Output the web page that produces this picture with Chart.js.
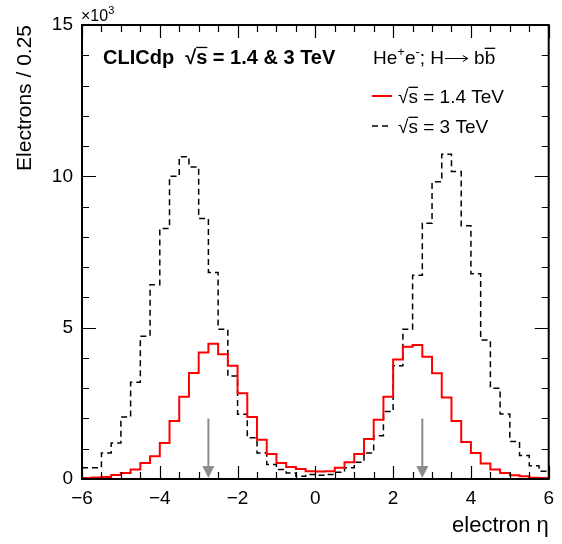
<!DOCTYPE html>
<html>
<head>
<meta charset="utf-8">
<script src="https://cdn.jsdelivr.net/npm/chart.js@4.4.1/dist/chart.umd.min.js"></script>
<style>
  html, body { margin: 0; padding: 0; background: #fff; }
</style>
</head>
<body>
<canvas id="c" width="562" height="544"></canvas>
<script>
// bin edges in electron eta (48 bins of 0.25)
const binEdges = [-6, -5.75, -5.5, -5.25, -5, -4.75, -4.5, -4.25, -4, -3.75, -3.5, -3.25,
  -3, -2.75, -2.5, -2.25, -2, -1.75, -1.5, -1.25, -1, -0.75, -0.5, -0.25,
  0, 0.25, 0.5, 0.75, 1, 1.25, 1.5, 1.75, 2, 2.25, 2.5, 2.75,
  3, 3.25, 3.5, 3.75, 4, 4.25, 4.5, 4.75, 5, 5.25, 5.5, 5.75, 6];

// electrons per bin, sqrt(s) = 1.4 TeV
const electrons14 = [30, 50, 70, 130, 200, 310, 530, 750, 1190, 1920, 2720, 3500,
  4180, 4470, 4120, 3740, 2830, 2050, 1300, 830, 530, 400, 330, 260,
  250, 260, 370, 550, 830, 1320, 1960, 2720, 3950, 4370, 4430, 4040,
  3490, 2690, 1920, 1220, 860, 510, 310, 200, 120, 90, 40, 30];

// electrons per bin, sqrt(s) = 3 TeV
const electrons3 = [370, 370, 860, 1190, 2050, 3200, 4720, 6420, 8280, 10000, 10650, 10310,
  8610, 6820, 4950, 3400, 2140, 1360, 860, 480, 310, 200, 90, 150,
  120, 150, 220, 370, 550, 860, 1430, 2230, 3740, 4950, 6730, 8450,
  9820, 10730, 10160, 8370, 6780, 4590, 3000, 2150, 1240, 780, 440, 260];

// cut arrows
const arrowEta = [-2.75, 2.75];
const arrowFrom = 2000;
const arrowTo = 0;

const xTicks = { min: -6, max: 6, major: 2, minor: 0.5 };
const yTicks = { min: 0, max: 15000, major: 5000, minor: 1000 };

const FONT = "'Liberation Sans', Arial, Helvetica, sans-serif";
Chart.defaults.font.family = FONT;
Chart.defaults.color = '#000';

function histPoints(values) {
  let pts = values.map((v, i) => ({ x: binEdges[i], y: v }));
  pts.push({ x: binEdges[binEdges.length - 1], y: values[values.length - 1] });
  return pts;
}

// draw a run of text pieces: [text, kind] with kind '', 'sup', 'over', 'arrow'
function drawPieces(ctx, pieces, x, y, size, bold) {
  let cx = x;
  pieces.forEach(function(p) {
    let t = p[0], kind = p[1] || '';
    if (kind === 'arrow') {
      // long thin right arrow like ROOT's #rightarrow
      let len = size * 1.25, ay = Math.round(y - size * 0.34) + 0.5;
      ctx.save();
      ctx.strokeStyle = '#000';
      ctx.lineWidth = 1;
      ctx.beginPath();
      ctx.moveTo(cx + 1, ay);
      ctx.lineTo(cx + len, ay);
      ctx.moveTo(cx + len - 5, ay - 3);
      ctx.lineTo(cx + len, ay);
      ctx.lineTo(cx + len - 5, ay + 3);
      ctx.stroke();
      ctx.restore();
      cx += len + 1;
      return;
    }
    let s = kind === 'sup' ? Math.round(size * 0.68) : size;
    ctx.font = (bold ? 'bold ' : '') + s + 'px ' + FONT;
    let dy = kind === 'sup' ? -size * 0.42 : 0;
    ctx.fillText(t, cx, y + dy);
    let w = ctx.measureText(t).width;
    if (kind === 'over') {
      ctx.fillRect(cx, y - size * 0.86, w, 1.3);
    }
    cx += w;
  });
  return cx;
}

// "√s" followed by some text
function sqrtS(rest) {
  return [['\u221A'], ['s', 'over'], [rest]];
}

const rootStyle = {
  id: 'rootStyle',
  afterDatasetsDraw(chart) {
    const { ctx, chartArea: a, scales: { x, y } } = chart;
    ctx.save();

    // arrows
    ctx.strokeStyle = '#8c8c8c';
    ctx.fillStyle = '#8c8c8c';
    ctx.lineWidth = 2;
    arrowEta.forEach(function(v) {
      let px = x.getPixelForValue(v);
      let top = y.getPixelForValue(arrowFrom);
      let tip = y.getPixelForValue(arrowTo) - 1;
      ctx.beginPath();
      ctx.moveTo(px, top);
      ctx.lineTo(px, tip - 10);
      ctx.stroke();
      ctx.beginPath();
      ctx.moveTo(px - 6, tip - 12);
      ctx.lineTo(px + 6, tip - 12);
      ctx.lineTo(px, tip);
      ctx.closePath();
      ctx.fill();
    });

    // frame
    ctx.strokeStyle = '#000';
    ctx.lineWidth = 2;
    ctx.strokeRect(a.left, a.top, a.right - a.left, a.bottom - a.top);

    // inward ticks on all four sides
    ctx.lineWidth = 1.2;
    ctx.beginPath();
    for (let v = xTicks.min; v <= xTicks.max + 1e-9; v += xTicks.minor) {
      let px = Math.round(x.getPixelForValue(v)) + 0.5;
      let len = Math.abs(v / xTicks.major - Math.round(v / xTicks.major)) < 1e-6 ? 13 : 7;
      ctx.moveTo(px, a.bottom); ctx.lineTo(px, a.bottom - len);
      ctx.moveTo(px, a.top); ctx.lineTo(px, a.top + len);
    }
    for (let v = yTicks.min; v <= yTicks.max; v += yTicks.minor) {
      let py = Math.round(y.getPixelForValue(v)) + 0.5;
      let len = v % yTicks.major === 0 ? 14 : 7;
      ctx.moveTo(a.left, py); ctx.lineTo(a.left + len, py);
      ctx.moveTo(a.right, py); ctx.lineTo(a.right - len, py);
    }
    ctx.stroke();
    ctx.restore();
  },
  afterDraw(chart) {
    const { ctx, chartArea: a } = chart;
    ctx.save();
    ctx.fillStyle = '#000';
    ctx.textBaseline = 'alphabetic';
    ctx.textAlign = 'left';

    // exponent
    drawPieces(ctx, [['\u00D710'], ['3', 'sup']], a.left - 1, 21, 16, false);

    // header
    let cx = drawPieces(ctx, [['CLICdp  ']], 103, 64, 20, true);
    drawPieces(ctx, sqrtS(' = 1.4 & 3 TeV'), cx, 64, 20, true);
    drawPieces(ctx, [['He'], ['+', 'sup'], ['e'], ['-', 'sup'], ['; H'], ['', 'arrow'], [' b'], ['b', 'over']], 373, 64, 19, false);

    // legend
    chart.data.datasets.forEach(function(ds, i) {
      let ly = 96 + i * 30;
      ctx.strokeStyle = ds.borderColor;
      ctx.lineWidth = ds.borderWidth;
      ctx.setLineDash(ds.borderDash || []);
      ctx.beginPath();
      ctx.moveTo(372, ly);
      ctx.lineTo(392, ly);
      ctx.stroke();
      ctx.setLineDash([]);
      drawPieces(ctx, sqrtS(ds.label.replace('\u221As', '')), 398, ly + 7, 19, false);
    });
    ctx.restore();
  }
};

new Chart(document.getElementById('c'), {
  type: 'line',
  data: {
    datasets: [
      { label: '\u221As = 1.4 TeV', data: histPoints(electrons14), borderColor: '#ff0000',
        borderWidth: 2, stepped: 'before', pointRadius: 0, fill: false },
      { label: '\u221As = 3 TeV', data: histPoints(electrons3), borderColor: '#000000',
        borderWidth: 1.5, borderDash: [6, 4], stepped: 'before', pointRadius: 0, fill: false }
    ]
  },
  options: {
    responsive: false,
    animation: false,
    layout: { padding: { top: 25, right: 13, left: 0, bottom: 0 } },
    plugins: { legend: { display: false }, tooltip: { enabled: false } },
    scales: {
      x: {
        type: 'linear',
        min: xTicks.min,
        max: xTicks.max,
        grid: { display: false, drawTicks: false },
        border: { display: false },
        ticks: {
          stepSize: xTicks.major, padding: 8, maxRotation: 0, color: '#000', font: { size: 19 },
          callback: v => v < 0 ? '\u2212' + Math.abs(v) : String(v)
        },
        title: { display: true, text: 'electron \u03B7', align: 'end', color: '#000',
          font: { size: 22 }, padding: { top: 0, bottom: 5 } },
        afterFit: s => { s.height = 65; }
      },
      y: {
        type: 'linear',
        min: yTicks.min,
        max: yTicks.max,
        grid: { display: false, drawTicks: false },
        border: { display: false },
        ticks: {
          stepSize: yTicks.major, padding: 9, color: '#000', font: { size: 19 },
          callback: v => String(v / 1000)
        },
        title: { display: true, text: 'Electrons / 0.25', align: 'end', color: '#000',
          font: { size: 21 }, padding: { top: 13, bottom: 0 } },
        afterFit: s => { s.width = 82; }
      }
    }
  },
  plugins: [rootStyle]
});
</script>
</body>
</html>
